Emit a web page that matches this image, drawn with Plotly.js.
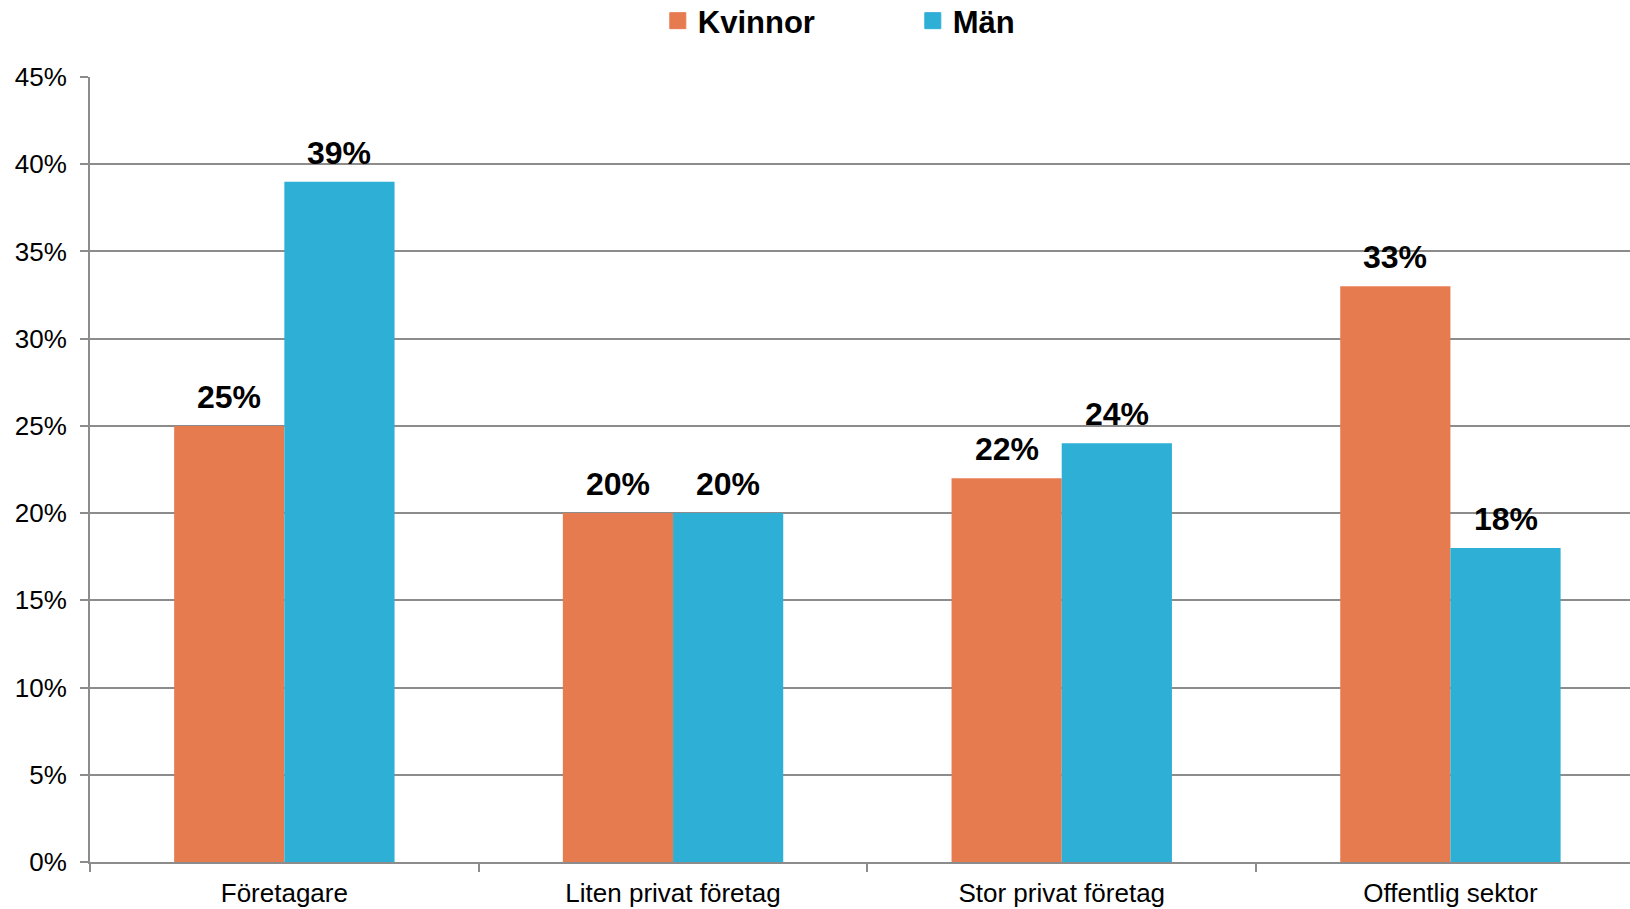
<!DOCTYPE html>
<html>
<head>
<meta charset="utf-8">
<script src="https://cdn.plot.ly/plotly-3.0.1.min.js"></script>
<style>
html,body{margin:0;padding:0;background:#fff;}
#chart{width:1630px;height:909px;}
</style>
</head>
<body>
<div id="chart"></div>
<script>
const categories = ["Företagare", "Liten privat företag", "Stor privat företag", "Offentlig sektor"];
const kvinnor = [25, 20, 22, 33];
const man = [39, 20, 24, 18];
const seriesNames = ["Kvinnor", "Män"];
const yTicks = [0, 5, 10, 15, 20, 25, 30, 35, 40, 45];

const FONT = '"Liberation Sans", Arial, sans-serif';
const colK = '#E77B50';
const colM = '#2EAFD6';
const grid = '#8c8c8c';

const traces = [
  {type:'bar', name: seriesNames[0], x: categories, y: kvinnor, marker:{color: colK}, hoverinfo:'none', showlegend:false},
  {type:'bar', name: seriesNames[1], x: categories, y: man, marker:{color: colM}, hoverinfo:'none', showlegend:false},
  // legend-only entries with larger square swatches
  {type:'scatter', mode:'markers', name: seriesNames[0], x:[null], y:[null],
    marker:{symbol:'square', size:16, color: colK, line:{width:1, color: colK}}, hoverinfo:'none'},
  {type:'scatter', mode:'markers', name: seriesNames[1], x:[null], y:[null],
    marker:{symbol:'square', size:16, color: colM, line:{width:1, color: colM}}, hoverinfo:'none'}
];

const barFrac = (1 - 0.433) / 2;
const labelFont = {family: FONT, size: 32, color:'#000', weight: 'bold'};
const annotations = [];
categories.forEach((c, i) => {
  annotations.push({x: i - barFrac/2, y: kvinnor[i], xref:'x', yref:'y', text: kvinnor[i] + '%',
    showarrow:false, yanchor:'bottom', yshift: 9, font: labelFont});
  annotations.push({x: i + barFrac/2, y: man[i], xref:'x', yref:'y', text: man[i] + '%',
    showarrow:false, yanchor:'bottom', yshift: 9, font: labelFont});
});

const layout = {
  width: 1630, height: 909,
  margin: {l: 90, r: 0, t: 77, b: 47, pad: 0, autoexpand: false},
  paper_bgcolor: '#fff', plot_bgcolor: '#fff',
  barmode: 'group', bargap: 0.433, bargroupgap: 0,
  font: {family: FONT, color: '#000'},
  showlegend: true,
  legend: {orientation: 'h', x: 0.3687, xanchor: 'left', y: 1.0713, yanchor: 'middle',
    font: {family: FONT, size: 31, color: '#000', weight: 'bold'}, entrywidth: 210, traceorder: 'normal',
    itemsizing: 'trace'},
  xaxis: {type: 'category', range: [-0.5, 3.462], showgrid: false, showline: true, linecolor: grid, linewidth: 2,
    ticks: 'outside', tickson: 'boundaries', ticklen: 8, tickcolor: grid, tickwidth: 2,
    tickfont: {family: FONT, size: 26, color: '#000'}, ticklabelstandoff: 7, zeroline: false, fixedrange: true},
  yaxis: {range: [0, 45], tickvals: yTicks, ticktext: yTicks.map(v => v + '%'), showgrid: true, gridcolor: grid, gridwidth: 2,
    showline: true, linecolor: grid, linewidth: 2, ticks: 'outside', ticklen: 8, tickcolor: grid, tickwidth: 2,
    tickfont: {family: FONT, size: 26, color: '#000'}, ticklabelstandoff: 8, zeroline: false, fixedrange: true},
  annotations: annotations
};

Plotly.newPlot('chart', traces, layout, {displayModeBar: false, staticPlot: true});
</script>
</body>
</html>
